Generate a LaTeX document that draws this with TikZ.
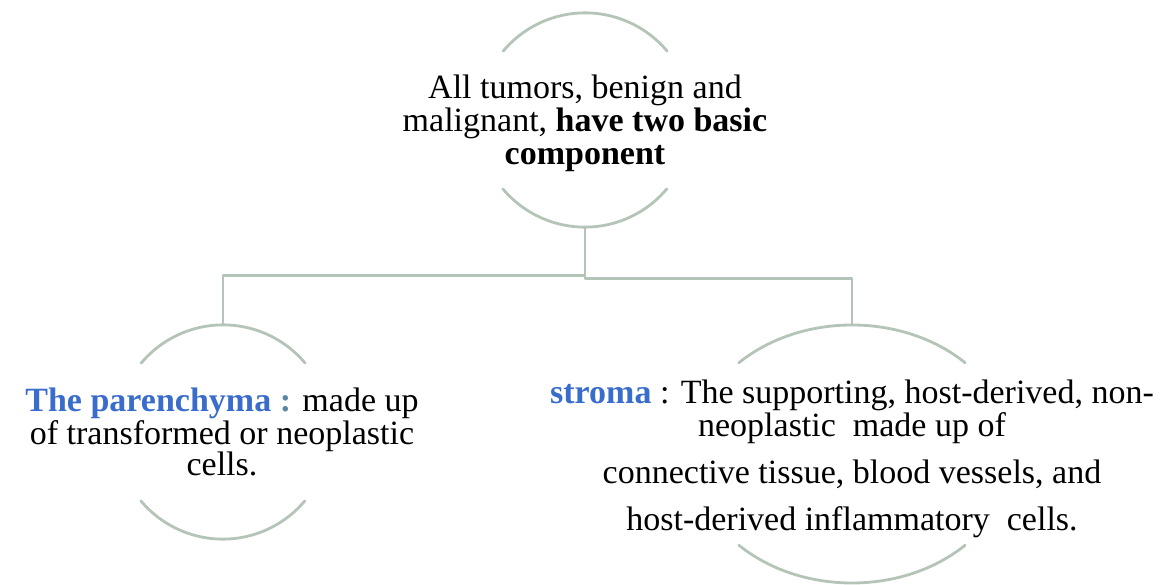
\documentclass[tikz,border=0pt]{standalone}
\usepackage{fontspec}
\setmainfont{Liberation Serif}
\usepackage{tikz}
\usetikzlibrary{shapes.geometric}
\definecolor{rimgray}{HTML}{B4C4B7}
\definecolor{headblue}{HTML}{3A6DCB}
\definecolor{colgray}{HTML}{5A86A6}

\begin{document}
\begin{tikzpicture}[line cap=round,line join=round,x=1pt,y=1pt,
  rim/.style={draw=rimgray,line width=2.8pt},
  link/.style={draw=rimgray,line width=2.8pt,line cap=butt},
  ring/.style={circle,inner sep=0pt,minimum size=214pt},
  txt/.style={align=center,inner sep=0pt,anchor=north}]
\useasboundingbox (0,0) rectangle (1176,584);
% rings
\node[ring] (topring) at (585,464) {};
\node[ring] (parring) at (223,152) {};
\node[ellipse,inner sep=0pt,minimum width=320pt,minimum height=258pt] (stromaring) at (852,130) {};
\draw[rim] (topring.40) arc[start angle=40,end angle=140,radius=107pt];
\draw[rim] (topring.220) arc[start angle=220,end angle=320,radius=107pt];
\draw[rim] (parring.40) arc[start angle=40,end angle=140,radius=107pt];
\draw[rim] (parring.220) arc[start angle=220,end angle=320,radius=107pt];
\draw[rim] (stromaring.center) ++(45:160pt and 129pt) arc[start angle=45,end angle=135,x radius=160pt,y radius=129pt];
\draw[rim] (stromaring.center) ++(225:160pt and 129pt) arc[start angle=225,end angle=315,x radius=160pt,y radius=129pt];
% texts
\node[txt,font=\fontsize{34}{33}\selectfont] (toptext) at (585,509)
  {All tumors, benign and\\ malignant, \textbf{have two basic}\\ \textbf{component}};
\node[txt,font=\fontsize{34}{30.5}\selectfont] (partext) at (222,196)
  {\textcolor{headblue}{\textbf{The parenchyma}} \textcolor{colgray}{\textbf{:}} made up\\ of transformed or neoplastic\\ cells.};
\node[txt,font=\fontsize{34}{31}\selectfont] (stromatext) at (852,204)
  {\textcolor{headblue}{\textbf{stroma}} : The supporting, host-derived, non-\\ neoplastic\ \ made up of\\[16pt] connective tissue, blood vessels, and\\[16pt] host-derived inflammatory\ \ cells.};
% connectors
\draw[link] (topring.south) -- ++(0,-51) -| (stromaring.north);
\draw[link] (topring.south) ++(0,-48) -| (parring.north);
\end{tikzpicture}
\end{document}
